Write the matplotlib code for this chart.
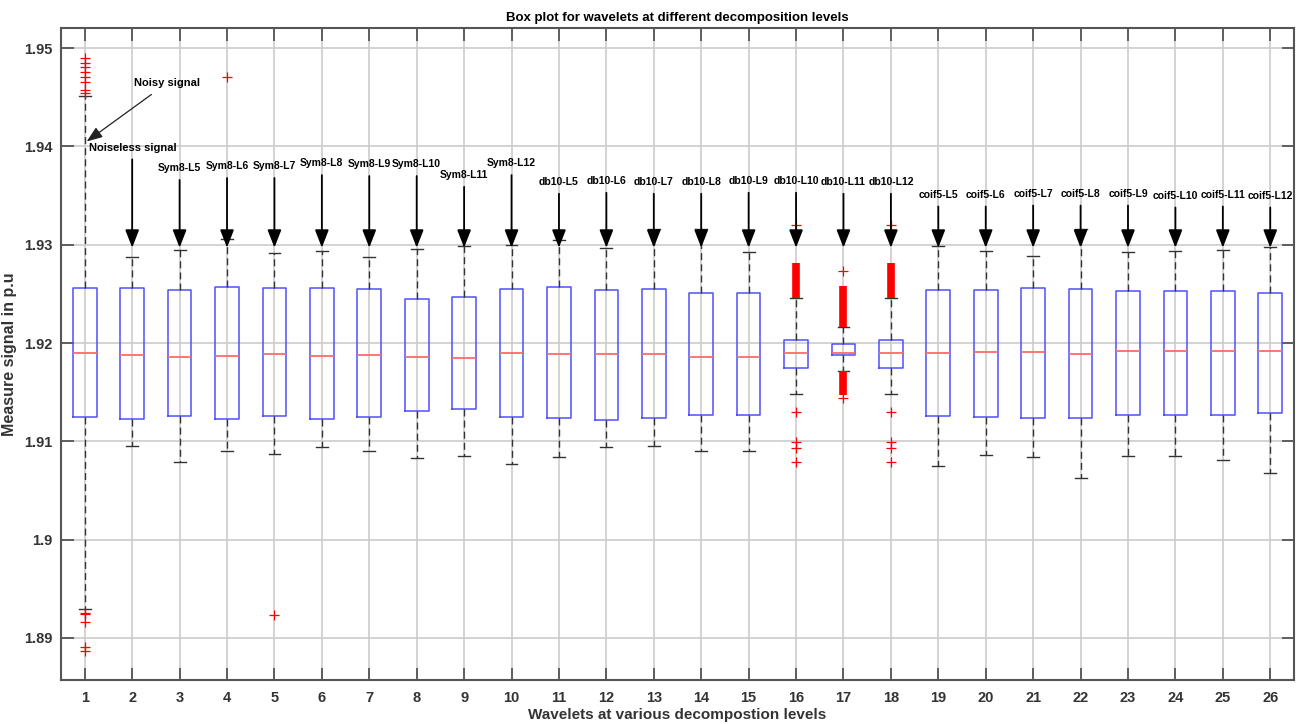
import matplotlib
matplotlib.use("Agg")
import matplotlib.pyplot as plt

# ---- data ----
positions = list(range(1, 27))

q1 = [1.91250, 1.91230, 1.91258, 1.91224, 1.91258, 1.91224, 1.91247, 1.91308, 1.91332,
      1.91244, 1.91234, 1.91214, 1.91234, 1.91265, 1.91265, 1.91746, 1.91881, 1.91746,
      1.91258, 1.91247, 1.91234, 1.91234, 1.91265, 1.91265, 1.91268, 1.91288]
medians = [1.91895, 1.91881, 1.91855, 1.91865, 1.91891, 1.91871, 1.91881, 1.91861, 1.91851,
           1.91895, 1.91885, 1.91885, 1.91885, 1.91861, 1.91861, 1.91901, 1.91901, 1.91901,
           1.91901, 1.91905, 1.91908, 1.91888, 1.91922, 1.91922, 1.91922, 1.91916]
q3 = [1.92562, 1.92556, 1.92536, 1.92573, 1.92556, 1.92556, 1.92549, 1.92444, 1.92471,
      1.92549, 1.92573, 1.92539, 1.92549, 1.92512, 1.92512, 1.92031, 1.91990, 1.92031,
      1.92539, 1.92542, 1.92556, 1.92552, 1.92532, 1.92529, 1.92529, 1.92505]
whisker_low = [1.89300, 1.90953, 1.90793, 1.90899, 1.90871, 1.90942, 1.90902, 1.90834, 1.90854,
               1.90769, 1.90841, 1.90946, 1.90953, 1.90902, 1.90902, 1.91481, 1.91712, 1.91481,
               1.90749, 1.90864, 1.90844, 1.90624, 1.90851, 1.90851, 1.90810, 1.90681]
whisker_high = [1.94510, 1.92878, 1.92943, 1.93055, 1.92912, 1.92939, 1.92872, 1.92959, 1.92990,
                1.92994, 1.93048, 1.92969, 1.93163, 1.93163, 1.92929, 1.92455, 1.92160, 1.92455,
                1.92986, 1.92939, 1.92885, 1.93163, 1.92929, 1.92932, 1.92946, 1.92973]

outliers = {
    1: [1.9490, 1.9485, 1.9481, 1.9476, 1.9471, 1.9466, 1.9457, 1.9454,
        1.8925, 1.8924, 1.8916, 1.8891, 1.8887],
    4: [1.9471],
    5: [1.8923],
    16: [1.9320, 1.91295, 1.90990, 1.90929, 1.90793],
    17: [1.92735, 1.91441],
    18: [1.9320, 1.91295, 1.90990, 1.90929, 1.90793],
}
# runs of outliers so dense they merge into a solid red bar
dense_outliers = {
    16: [(1.92455, 1.92810)],
    17: [(1.92160, 1.92580), (1.91468, 1.91712)],
    18: [(1.92455, 1.92810)],
}

wavelet_labels = ['Noiseless signal',
                  'Sym8-L5', 'Sym8-L6', 'Sym8-L7', 'Sym8-L8', 'Sym8-L9', 'Sym8-L10', 'Sym8-L11', 'Sym8-L12',
                  'db10-L5', 'db10-L6', 'db10-L7', 'db10-L8', 'db10-L9', 'db10-L10', 'db10-L11', 'db10-L12',
                  'coif5-L5', 'coif5-L6', 'coif5-L7', 'coif5-L8', 'coif5-L9', 'coif5-L10', 'coif5-L11', 'coif5-L12']
label_heights = [1.9398,
                 1.9378, 1.9380, 1.9380, 1.9383, 1.9382, 1.9382, 1.9371, 1.9383,
                 1.9364, 1.9365, 1.9364, 1.9364, 1.9365, 1.9365, 1.9364, 1.9364,
                 1.9351, 1.9351, 1.9352, 1.9352, 1.9352, 1.9350, 1.9351, 1.9350]

yticks = [1.89, 1.90, 1.91, 1.92, 1.93, 1.94, 1.95]

# ---- plot ----
plt.rcParams['font.family'] = ['Liberation Sans', 'DejaVu Sans']
plt.rcParams['font.weight'] = 'bold'

fig = plt.figure(figsize=(13.13, 7.24), dpi=100)
ax = fig.add_axes([0.0465, 0.0608, 0.939, 0.9005])

ax.set_xlim(0.5, 26.5)
ax.set_ylim(1.88573, 1.95204)

ax.grid(True, color='#cccccc', linewidth=1.2, zorder=0)
ax.set_axisbelow(True)

stats = []
for i, p in enumerate(positions):
    stats.append(dict(med=medians[i], q1=q1[i], q3=q3[i],
                      whislo=whisker_low[i], whishi=whisker_high[i],
                      fliers=outliers.get(p, [])))

ax.bxp(stats, positions=positions, widths=0.5, capwidths=0.25, manage_ticks=False,
       boxprops=dict(color='#5050ff', linewidth=1.1),
       medianprops=dict(color='#ff6a6a', linewidth=1.3),
       whiskerprops=dict(color='#333333', linewidth=1.0, linestyle=(0, (5, 3))),
       capprops=dict(color='#333333', linewidth=1.0),
       flierprops=dict(marker='+', markeredgecolor='red', markersize=7,
                       markeredgewidth=0.9, linestyle='none'))

for p, runs in dense_outliers.items():
    for lo, hi in runs:
        ax.vlines(p, lo, hi, colors='red', linewidth=5.5, zorder=3)

# annotations
ax.annotate('Noisy signal', xy=(1.04, 1.9405), xytext=(2.03, 1.9464),
            fontsize=8, fontweight='bold', ha='left', va='center',
            arrowprops=dict(arrowstyle='-|>,head_length=0.8,head_width=0.3',
                            color='#222222', lw=0.9, mutation_scale=12,
                            shrinkA=4, shrinkB=0))
ax.text(1.08, label_heights[0], wavelet_labels[0], fontsize=8, fontweight='bold',
        ha='left', va='center')

arrow_props = dict(arrowstyle='-|>,head_length=0.9,head_width=0.35', color='black',
                   lw=1.3, mutation_scale=12, shrinkA=3, shrinkB=0)
ax.annotate('', xy=(2, 1.9297), xytext=(2, 1.9391), arrowprops=arrow_props)
for p, lab, h in zip(positions[2:], wavelet_labels[1:], label_heights[1:]):
    ax.annotate(lab, xy=(p, 1.9297), xytext=(p, h), fontsize=7.5, fontweight='bold',
                ha='center', va='center', arrowprops=arrow_props)

ax.set_xticks(positions)
ax.set_xticklabels([str(p) for p in positions])
ax.set_yticks(yticks)
ax.set_yticklabels(['%g' % v for v in yticks])
ax.tick_params(direction='in', length=9, width=1.3, top=True, right=True,
               color='#555555', labelcolor='#333333', labelsize=10.5)
ax.tick_params(axis='x', pad=8)
ax.tick_params(axis='y', pad=6)
for s in ax.spines.values():
    s.set_color('#555555')
    s.set_linewidth(1.5)

ax.set_title('Box plot for wavelets at different decomposition levels',
             fontsize=9.5, fontweight='bold', pad=5)
ax.set_xlabel('Wavelets at various decompostion levels', fontsize=11,
              fontweight='bold', color='#333333', labelpad=2)
ax.set_ylabel('Measure signal in p.u', fontsize=11.5, fontweight='bold',
              color='#333333')
ax.yaxis.set_label_coords(-0.036, 0.5)

fig.savefig('out.png', dpi=100)
